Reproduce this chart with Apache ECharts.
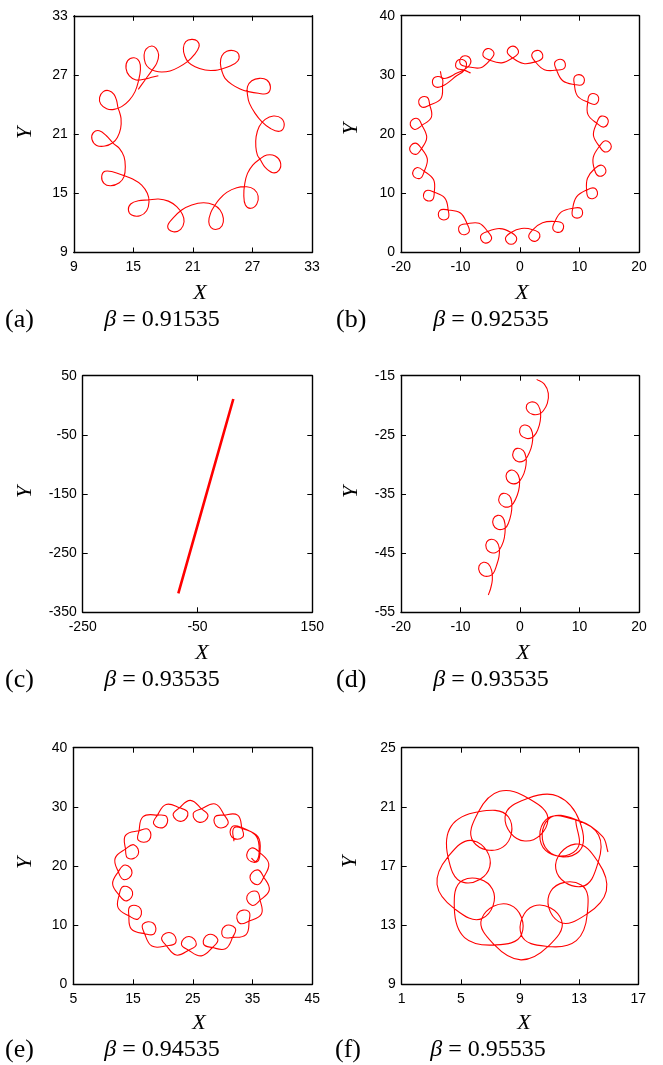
<!DOCTYPE html>
<html><head><meta charset="utf-8">
<script src="https://cdn.jsdelivr.net/npm/echarts@6/dist/echarts.min.js"></script>
<style>html,body{margin:0;padding:0;background:#fff}#c{width:663px;height:1065px}</style>
</head><body><div id="c"></div>
<script>
// ---- data (X, Y in axis units) ----
const trajA = [[15.50,25.54],[16.18,26.49],[16.95,27.57],[17.35,28.18],[17.55,29.02],[17.29,29.70],[16.85,29.94],[16.28,29.63],[16.08,29.02],[16.21,28.18],[16.61,27.67],[17.18,27.40],[17.86,27.30],[18.70,27.40],[19.54,27.77],[20.45,28.35],[21.12,29.03],[21.62,29.87],[21.45,30.44],[20.88,30.61],[20.28,30.38],[20.04,29.70],[20.18,28.92],[20.55,28.28],[21.22,27.84],[22.23,27.50],[23.24,27.47],[23.87,27.60],[24.75,27.91],[25.52,28.42],[25.62,29.09],[25.15,29.46],[24.41,29.40],[23.91,28.92],[23.77,28.18],[23.94,27.33],[24.24,26.66],[24.92,26.05],[25.76,25.58],[26.60,25.31],[27.60,25.14],[28.51,25.14],[28.81,25.81],[28.45,26.49],[27.71,26.66],[26.93,26.42],[26.50,25.81],[26.50,24.97],[26.70,24.12],[27.27,23.11],[27.94,22.27],[28.78,21.59],[29.72,21.29],[30.19,21.83],[29.92,22.60],[29.12,22.84],[28.28,22.50],[27.67,21.76],[27.37,20.74],[27.34,19.73],[27.50,18.88],[27.77,18.45],[28.28,17.63],[29.05,17.09],[29.69,17.36],[29.82,18.14],[29.29,18.78],[28.45,18.88],[27.71,18.45],[27.03,17.87],[26.50,17.02],[26.23,16.01],[26.13,14.83],[26.29,13.82],[26.83,13.48],[27.44,13.92],[27.57,14.73],[27.17,15.40],[26.43,15.67],[25.42,15.57],[24.41,15.10],[23.67,14.42],[23.24,13.82],[22.80,13.04],[22.60,12.12],[22.83,11.52],[23.40,11.35],[23.94,11.72],[24.07,12.46],[23.74,13.31],[23.07,13.85],[22.06,14.05],[20.88,13.82],[19.87,13.31],[18.97,12.46],[18.46,11.62],[19.03,11.11],[19.77,11.35],[20.11,12.12],[19.94,12.87],[19.37,13.65],[18.53,14.21],[17.52,14.42],[16.51,14.32],[15.50,14.25],[14.73,13.92],[14.50,13.31],[14.83,12.80],[15.67,12.73],[16.34,13.24],[16.58,14.15],[16.41,15.00],[15.84,15.84],[14.93,16.45],[13.99,16.82],[12.98,17.16],[12.14,17.23],[11.81,16.69],[12.04,16.01],[12.71,15.77],[13.59,16.08],[14.06,16.69],[14.19,17.70],[14.06,18.72],[13.59,19.56],[12.98,20.07],[12.31,20.81],[11.57,21.35],[10.97,21.15],[10.83,20.47],[11.30,19.86],[12.14,19.79],[12.92,20.13],[13.39,20.67],[13.72,21.59],[13.76,22.60],[13.59,23.28],[13.45,23.68],[13.32,24.39],[13.05,25.04],[12.55,25.41],[11.97,25.31],[11.60,24.73],[11.71,24.06],[12.31,23.58],[13.05,23.51],[13.82,23.79],[14.60,24.46],[15.17,25.31],[15.54,26.49],[15.71,27.50],[15.61,28.35],[15.07,28.75],[14.43,28.45],[14.26,27.67],[14.60,26.90],[15.27,26.49],[16.18,26.59],[16.85,26.76],[17.52,26.93]];

const trajB = [[-13.4,30.6],[-12.9,29.4],[-10.6,30.3],
[-8.71,31.37],[-8.36,32.74],[-9.64,33.14],[-10.04,31.86],[-8.71,31.37],[-6.60,31.21],
[-5.06,32.48],[-4.38,33.72],[-5.52,34.43],[-6.23,33.28],[-5.06,32.48],[-3.07,32.03],
[-1.23,32.85],[-0.25,33.87],[-1.17,34.85],[-2.15,33.93],[-1.23,32.85],[0.59,31.92],
[2.60,32.19],[3.81,32.93],[3.17,34.11],[1.99,33.47],[2.60,32.19],[4.09,30.87],
[6.15,30.80],[7.51,31.21],[7.20,32.51],[5.89,32.19],[6.15,30.80],[7.18,29.0],
[9.14,28.37],[10.56,28.42],[10.59,29.76],[9.24,29.79],[9.14,28.37],[9.66,26.43],
[11.39,25.38],[12.77,25.07],[13.13,26.37],[11.83,26.73],[11.39,25.38],[11.41,23.32],
[12.89,21.83],[14.14,21.18],[14.82,22.34],[13.66,23.02],[12.89,21.83],[12.34,19.78],
[13.35,17.91],[14.39,16.95],[15.35,17.89],[14.41,18.85],[13.35,17.91],[12.31,16.05],
[12.49,14.08],[13.25,12.88],[14.42,13.55],[13.75,14.72],[12.49,14.08],[11.34,12.53],
[11.19,10.53],[11.62,9.18],[12.92,9.52],[12.58,10.82],[11.19,10.53],[9.50,9.38],
[8.86,7.44],[8.93,6.03],[10.27,6.03],[10.27,7.37],[8.86,7.44],[6.96,6.83],
[5.87,5.21],[5.58,3.82],[6.88,3.48],[7.22,4.78],[5.87,5.21],[3.79,4.99],
[2.13,3.81],[1.48,2.56],[2.64,1.88],[3.32,3.04],[2.13,3.81],[0.25,4.03],
[-1.51,3.35],[-2.45,2.29],[-1.49,1.35],[-0.55,2.31],[-1.51,3.35],[-3.38,4.01],
[-5.43,3.52],[-6.62,2.74],[-5.94,1.58],[-4.78,2.26],[-5.43,3.52],[-6.87,4.90],
[-8.89,4.82],[-10.23,4.36],[-9.86,3.07],[-8.57,3.44],[-8.89,4.82],[-10.01,6.65],
[-12.07,7.16],[-13.49,7.06],[-13.46,5.72],[-12.12,5.74],[-12.07,7.16],[-12.63,9.15],
[-14.41,10.15],[-15.80,10.41],[-16.11,9.10],[-14.80,8.79],[-14.41,10.15],[-14.52,12.25],
[-16.09,13.70],[-17.37,14.31],[-18.01,13.13],[-16.83,12.49],[-16.09,13.70],[-15.57,15.76],
[-16.55,17.53],[-17.63,18.45],[-18.55,17.47],[-17.57,16.55],[-16.55,17.53],[-15.68,19.40],
[-16.48,21.46],[-17.28,22.63],[-18.43,21.92],[-17.72,20.77],[-16.48,21.46],[-14.89,22.85],
[-15.17,24.92],[-15.67,26.25],[-16.95,25.83],[-16.53,24.55],[-15.17,24.92],[-13.30,25.97],
[-13.02,28.10],[-13.17,29.51],[-14.51,29.43],[-14.43,28.09],[-13.02,28.10],[-10.66,29.84],
[-9.36,30.80],[-9.09,32.19],[-10.39,32.51],[-10.71,31.21],[-9.36,30.80],[-8.3,30.3]];

const trajC = [[-83.4,-317.9],[12.4,10.6]];

const trajD = [[2.80,-15.62],[4.09,-16.41],[4.76,-17.99],[4.59,-19.68],[3.92,-20.92],[3.25,-21.48],[2.13,-21.54],[1.23,-20.92],[1.12,-19.96],[1.85,-19.45],[2.80,-19.68],[3.36,-20.69],[3.47,-21.93],[3.25,-23.34],[2.69,-24.75],[1.96,-25.48],[1.01,-25.59],[0.11,-25.03],[0.0,-23.90],[0.67,-23.34],[1.57,-23.62],[2.07,-24.63],[2.13,-25.87],[1.85,-27.28],[1.23,-28.69],[0.67,-29.37],[-0.28,-29.54],[-1.12,-28.86],[-1.12,-27.85],[-0.45,-27.28],[0.56,-27.68],[1.01,-28.80],[1.01,-30.10],[0.67,-31.51],[0.0,-32.75],[-0.56,-33.20],[-1.57,-33.20],[-2.24,-32.52],[-2.24,-31.51],[-1.40,-30.94],[-0.56,-31.39],[-0.11,-32.35],[-0.11,-33.76],[-0.45,-35.17],[-1.12,-36.58],[-1.79,-37.14],[-2.69,-37.14],[-3.47,-36.46],[-3.47,-35.45],[-2.80,-34.89],[-1.79,-35.28],[-1.40,-36.30],[-1.40,-37.70],[-1.68,-39.11],[-2.24,-40.52],[-2.91,-40.97],[-3.81,-40.92],[-4.48,-40.24],[-4.48,-39.17],[-3.75,-38.61],[-2.91,-38.94],[-2.52,-40.07],[-2.52,-41.54],[-2.80,-43.06],[-3.47,-44.46],[-4.15,-44.92],[-5.04,-44.86],[-5.66,-44.18],[-5.60,-43.11],[-4.76,-42.66],[-3.92,-43.06],[-3.47,-44.18],[-3.53,-45.59],[-3.92,-47.00],[-4.48,-48.41],[-5.15,-48.86],[-6.05,-48.86],[-6.78,-48.24],[-6.89,-47.17],[-6.16,-46.55],[-5.32,-46.83],[-4.76,-47.96],[-4.65,-49.54],[-4.93,-50.94],[-5.32,-52.07]];

const trajE = [[31.88,24.2],[31.88,26.43],[33.50,26.26],[35.92,24.92],
[36.24,22.23],[35.70,20.69],[34.09,21.42],[34.82,23.03],[36.24,22.23],[37.71,20.38],
[36.87,18.11],[35.84,16.84],[34.57,18.07],[35.80,19.34],[36.87,18.11],[37.80,15.97],
[36.26,14.22],[34.88,13.35],[34.07,14.92],[35.64,15.73],[36.26,14.22],[36.49,11.87],
[34.42,10.70],[32.83,10.33],[32.58,12.08],[34.33,12.33],[34.42,10.70],[33.92,8.41],
[31.66,7.93],[30.03,8.08],[30.35,9.82],[32.09,9.50],[31.66,7.93],[30.48,6.01],
[28.28,6.22],[26.78,6.86],[27.62,8.42],[29.18,7.58],[28.28,6.22],[26.44,4.81],
[24.30,5.77],[23.09,6.87],[24.39,8.07],[25.59,6.77],[24.30,5.77],[22.23,4.94],
[20.61,6.51],[19.80,7.93],[21.40,8.68],[22.15,7.07],[20.61,6.51],[18.16,6.46],
[16.94,8.56],[16.65,10.16],[18.41,10.32],[18.57,8.56],[16.94,8.56],[14.73,9.31],
[14.30,11.58],[14.55,13.19],[16.27,12.77],[15.85,11.05],[14.30,11.58],[12.51,12.92],
[12.67,15.09],[13.41,16.55],[14.91,15.61],[13.97,14.11],[12.67,15.09],[11.58,17.00],
[12.53,19.03],[13.70,20.18],[14.83,18.82],[13.47,17.69],[12.53,19.03],[11.99,21.27],
[13.74,22.86],[15.21,23.57],[15.84,21.92],[14.19,21.29],[13.74,22.86],[13.74,25.17],
[16.00,25.95],[17.62,26.16],[17.69,24.39],[15.92,24.32],[16.00,25.95],[16.68,28.35],
[19.08,28.60],[20.67,28.26],[20.16,26.57],[18.47,27.09],[19.08,28.60],[20.53,30.40],
[22.77,29.83],[24.17,29.00],[23.15,27.56],[21.71,28.59],[22.77,29.83],[24.60,31.10],
[26.45,29.66],[27.54,28.44],[26.12,27.38],[25.06,28.80],[26.45,29.66],[28.76,30.48],
[30.25,28.61],[30.88,27.10],[29.20,26.56],[28.66,28.24],[30.25,28.61],[32.5,28.6],
[33.19,26.50],[33.34,24.88],[31.58,24.86],[31.56,26.63],[33.19,26.50],[35.64,25.0],
[36.1,22.4],[35.6,20.8],[34.8,21.3]];

const trajF = [[12.77,20.11],[12.80,18.08],[10.73,18.05],[10.74,20.12],[12.77,20.11],[14.31,19.10],
[14.29,17.26],[13.18,15.62],[11.42,16.81],[12.72,18.48],[14.29,17.26],[14.84,15.32],
[13.55,13.77],[11.62,13.24],[11.07,15.28],[13.14,15.72],[13.55,13.77],[12.81,11.95],
[10.90,11.56],[9.09,12.34],[9.93,14.29],[11.81,13.32],[10.90,11.56],[9.06,10.65],
[7.27,11.66],[6.41,13.44],[8.33,14.36],[9.11,12.38],[7.27,11.66],[5.25,12.16],
[4.56,14.12],[5.14,16.04],[7.14,15.43],[6.46,13.46],[4.56,14.12],[3.39,15.75],
[4.13,17.62],[5.84,18.71],[6.96,16.96],[5.18,15.89],[4.13,17.62],[4.35,19.70],
[6.19,20.67],[8.22,20.31],[7.86,18.29],[5.84,18.65],[6.19,20.67],[7.62,22.05],
[9.55,21.58],[10.89,20.11],[9.33,18.69],[7.99,20.33],[9.55,21.58],[11.56,21.72],
[13.02,20.06],[12.98,17.98],[10.87,18.05],[10.94,20.18],[13.02,20.06],[14.59,18.99],[14.95,17.95]];

// axis ranges [min, max, interval]
const xRangeA = [9, 33, 6],    yRangeA = [9, 33, 6];
const xRangeB = [-20, 20, 10], yRangeB = [0, 40, 10];
const xRangeC = [-250, 150, 200], yRangeC = [-350, 50, 100];
const xRangeD = [-20, 20, 10], yRangeD = [-55, -15, 10];
const xRangeE = [5, 45, 10],   yRangeE = [0, 40, 10];
const xRangeF = [1, 17, 4],    yRangeF = [9, 25, 4];

const panelLetters = ['(a)', '(b)', '(c)', '(d)', '(e)', '(f)'];
const betaValues = ['0.91535', '0.92535', '0.93535', '0.93535', '0.94535', '0.95535'];

// ---- layout ----
const trajs = [trajA, trajB, trajC, trajD, trajE, trajF];
const xr = [xRangeA, xRangeB, xRangeC, xRangeD, xRangeE, xRangeF];
const yr = [yRangeA, yRangeB, yRangeC, yRangeD, yRangeE, yRangeF];
const grids = [
  {left: 73.8, top: 15.8, width: 238.2, height: 236.7},
  {left: 401, top: 15.7, width: 238, height: 236.6},
  {left: 82.7, top: 375.7, width: 229.6, height: 236.6},
  {left: 401, top: 375.7, width: 238, height: 236.6},
  {left: 73.3, top: 747.7, width: 239, height: 236.6},
  {left: 401.7, top: 747.7, width: 236.6, height: 236.6}
];
const xTitlePos = [[200, 293], [522, 293], [202, 653], [523, 653], [199, 1023], [524, 1023]];
const yTitlePos = [[25, 133], [351, 129], [25, 492], [351, 492], [25, 863], [350, 862]];
const capY = [320, 320, 680, 680, 1050, 1050];
const letterX = [5, 336, 5, 336, 5, 335];
const betaX = [162, 491, 162, 491, 162, 488];
const lineWidths = [1.1, 1.1, 2.6, 1.1, 1.1, 1.1];

const SANS = '"Liberation Sans", Arial, Helvetica, sans-serif';
const SERIF = '"Liberation Serif", "Times New Roman", "DejaVu Serif", serif';
const axisLine = {show: true, onZero: false, lineStyle: {color: '#000', width: 1.4}};
const axisTick = {show: true, inside: true, length: 5, lineStyle: {color: '#000', width: 1}};

// smooth trajectory drawn through the axes' scales (api.coord), cubic curves through every read point
function makeRenderer(n, width) {
  const S = 0.36;
  return function (params, api) {
    if (params.dataIndexInside !== 0) return null;
    const p = [];
    for (let j = 0; j < n; j++) p.push(api.coord([api.value(0, j), api.value(1, j)]));
    let d = 'M' + p[0][0].toFixed(2) + ' ' + p[0][1].toFixed(2);
    const unit = (a, b) => { const dx = b[0] - a[0], dy = b[1] - a[1]; const l = Math.hypot(dx, dy) || 1; return [dx / l, dy / l]; };
    for (let j = 0; j < n - 1; j++) {
      const a = p[j], b = p[j + 1];
      const pa = j > 0 ? p[j - 1] : a, nb = j + 2 < n ? p[j + 2] : b;
      const len = Math.hypot(b[0] - a[0], b[1] - a[1]);
      const t0 = unit(pa, b), t1 = unit(a, nb);
      const c1 = [a[0] + t0[0] * len * S, a[1] + t0[1] * len * S];
      const c2 = [b[0] - t1[0] * len * S, b[1] - t1[1] * len * S];
      d += ' C' + c1[0].toFixed(2) + ' ' + c1[1].toFixed(2) + ' ' + c2[0].toFixed(2) + ' ' + c2[1].toFixed(2) + ' ' + b[0].toFixed(2) + ' ' + b[1].toFixed(2);
    }
    return {type: 'path', shape: {pathData: d}, style: {fill: 'none', stroke: '#ff0000', lineWidth: width, lineJoin: 'round'}};
  };
}

const xAxis = [], yAxis = [], series = [], graphic = [];
for (let i = 0; i < 6; i++) {
  const [xmin, xmax, xi] = xr[i], [ymin, ymax, yi] = yr[i];
  xAxis.push({gridIndex: i, type: 'value', position: 'bottom', min: xmin, max: xmax, interval: xi,
    axisLine, axisTick, splitLine: {show: false},
    axisLabel: {margin: 8, color: '#000', fontFamily: SANS, fontSize: 14}});
  xAxis.push({gridIndex: i, type: 'value', position: 'top', min: xmin, max: xmax, interval: xi,
    axisLine, axisTick, splitLine: {show: false}, axisLabel: {show: false}});
  yAxis.push({gridIndex: i, type: 'value', position: 'left', min: ymin, max: ymax, interval: yi,
    axisLine, axisTick, splitLine: {show: false},
    axisLabel: {margin: 6, color: '#000', fontFamily: SANS, fontSize: 14}});
  yAxis.push({gridIndex: i, type: 'value', position: 'right', min: ymin, max: ymax, interval: yi,
    axisLine, axisTick, splitLine: {show: false}, axisLabel: {show: false}});
  series.push({type: 'custom', xAxisIndex: 2 * i, yAxisIndex: 2 * i, data: trajs[i],
    dimensions: ['x', 'y'], encode: {x: 0, y: 1}, silent: true, clip: true,
    renderItem: makeRenderer(trajs[i].length, lineWidths[i])});
  graphic.push({type: 'text', x: xTitlePos[i][0], y: xTitlePos[i][1],
    style: {text: 'X', font: 'italic 22px ' + SERIF, fill: '#000', textAlign: 'center', textVerticalAlign: 'middle'}});
  graphic.push({type: 'text', x: yTitlePos[i][0], y: yTitlePos[i][1], rotation: Math.PI / 2,
    style: {text: 'Y', font: 'italic 22px ' + SERIF, fill: '#000', textAlign: 'center', textVerticalAlign: 'middle'}});
  graphic.push({type: 'text', x: letterX[i], y: capY[i],
    style: {text: panelLetters[i], font: '26px ' + SERIF, fill: '#000', textAlign: 'left', textVerticalAlign: 'middle'}});
  graphic.push({type: 'text', x: betaX[i], y: capY[i],
    style: {text: '{i|β} = ' + betaValues[i], font: '24px ' + SERIF, fill: '#000', textAlign: 'center', textVerticalAlign: 'middle',
      rich: {i: {font: 'italic 24px ' + SERIF, fill: '#000'}}}});
}

const chart = echarts.init(document.getElementById('c'), null, {renderer: 'canvas', width: 663, height: 1065});
chart.setOption({
  animation: false,
  backgroundColor: '#fff',
  grid: grids.map(g => Object.assign({containLabel: false}, g)),
  xAxis, yAxis, series, graphic
});
</script>
</body></html>
